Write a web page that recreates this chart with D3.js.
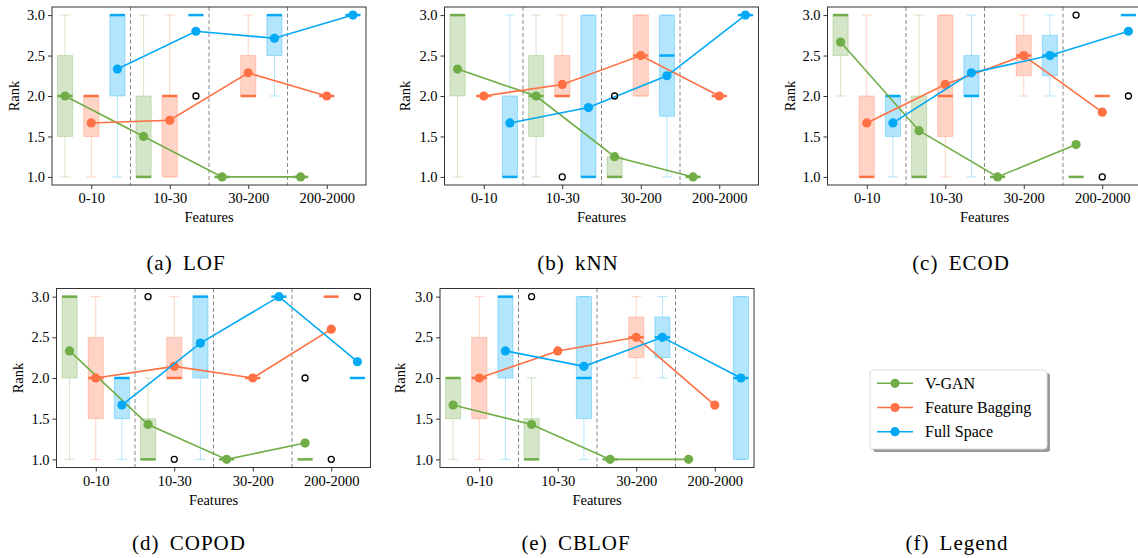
<!DOCTYPE html>
<html>
<head>
<meta charset="utf-8">
<script src="https://cdn.jsdelivr.net/npm/d3@7"></script>
<style>
body { margin: 0; background: #fff; }
</style>
</head>
<body>
<div class="container"></div>
<script>
const WIDTH = 1138;
const HEIGHT = 558;
const PLOTW = 314;
const FONT = "Liberation Serif";

const categories = ["0-10", "10-30", "30-200", "200-2000"];
const methods = ["V-GAN", "Feature Bagging", "Full Space"];
const colors = ["#70ad47", "#ff7043", "#03a9f4"];
const yTicks = [1.0, 1.5, 2.0, 2.5, 3.0];

// box stats per method (V-GAN, FB, Full Space), per feature group:
// [whiskerLow, q1, median, q3, whiskerHigh]
const lofBoxes = [
	[[1, 1.5, 2, 2.5, 3], [1, 1, 1, 2, 3], [1, 1, 1, 1, 1], [1, 1, 1, 1, 1]],
	[[1, 1.5, 2, 2, 2], [1, 1, 2, 2, 3], [2, 2, 2, 2.5, 3], [2, 2, 2, 2, 2]],
	[[1, 2, 3, 3, 3], [3, 3, 3, 3, 3], [2, 2.5, 3, 3, 3], [3, 3, 3, 3, 3]]
];
const lofMeans = [[2.0, 1.5, 1.0, 1.0], [1.667, 1.7, 2.286, 2.0], [2.333, 2.8, 2.714, 3.0]];
// [method, group, value]
const lofFliers = [[2, 1, 2.0]];

const knnBoxes = [
	[[1, 2, 3, 3, 3], [1, 1.5, 2, 2.5, 3], [1, 1, 1, 1.25, 1.25], [1, 1, 1, 1, 1]],
	[[2, 2, 2, 2, 2], [2, 2, 2, 2.5, 3], [2, 2, 2.5, 3, 3], [2, 2, 2, 2, 2]],
	[[1, 1, 1, 2, 3], [1, 1, 1, 3, 3], [1, 1.75, 2.5, 3, 3], [3, 3, 3, 3, 3]]
];
const knnMeans = [[2.333, 2.0, 1.25, 1.0], [2.0, 2.143, 2.5, 2.0], [1.667, 1.857, 2.25, 3.0]];
const knnFliers = [[1, 1, 1.0], [0, 2, 2.0]];

const ecodBoxes = [
	[[2, 2.5, 3, 3, 3], [1, 1, 1, 2, 3], [1, 1, 1, 1, 1], [1, 1, 1, 1, 1]],
	[[1, 1, 1, 2, 3], [1, 1.5, 2, 3, 3], [2, 2.25, 2.5, 2.75, 3], [2, 2, 2, 2, 2]],
	[[1, 1.5, 2, 2, 2], [1, 2, 2, 2.5, 3], [2, 2.25, 2.5, 2.75, 3], [3, 3, 3, 3, 3]]
];
const ecodMeans = [[2.667, 1.571, 1.0, 1.4], [1.667, 2.143, 2.5, 1.8], [1.667, 2.286, 2.5, 2.8]];
const ecodFliers = [[0, 3, 3.0], [1, 3, 1.0], [2, 3, 2.0]];

const copodBoxes = [
	[[1, 2, 3, 3, 3], [1, 1, 1, 1.5, 2], [1, 1, 1, 1, 1], [1, 1, 1, 1, 1]],
	[[1, 1.5, 2, 2.5, 3], [2, 2, 2, 2.5, 3], [2, 2, 2, 2, 2], [3, 3, 3, 3, 3]],
	[[1, 1.5, 2, 2, 2], [1, 2, 3, 3, 3], [3, 3, 3, 3, 3], [2, 2, 2, 2, 2]]
];
const copodMeans = [[2.333, 1.429, 1.0, 1.2], [2.0, 2.143, 2.0, 2.6], [1.667, 2.429, 3.0, 2.2]];
const copodFliers = [[0, 1, 3.0], [1, 1, 1.0], [0, 3, 2.0], [1, 3, 1.0], [2, 3, 3.0]];

const cblofBoxes = [
	[[1, 1.5, 2, 2, 2], [1, 1, 1, 1.5, 2], [1, 1, 1, 1, 1], null],
	[[1, 1.5, 2, 2.5, 3], null, [2, 2.25, 2.5, 2.75, 3], null],
	[[1, 2, 3, 3, 3], [1, 1.5, 2, 3, 3], [2, 2.25, 2.5, 2.75, 3], [1, 1, 2, 3, 3]]
];
const cblofMeans = [[1.667, 1.429, 1.0, 1.0], [2.0, 2.333, 2.5, 1.667], [2.333, 2.143, 2.5, 2.0]];
const cblofFliers = [[0, 1, 3.0]];

var translate = function(x, y) {
	return "translate(" + x + ", " + y + ")";
};

var drawBoxes = function(g, boxes, x, y) {
	var bw = x(0.29) - x(0);
	var cw = x(0.19) - x(0);
	boxes.forEach(function(list, m) {
		list.forEach(function(s, gi) {
			if (!s) return;
			var cx = x(gi * 3 + m);
			var c = colors[m];
			var b = g.append("g");
			// whiskers and caps
			[[s[0], s[1]], [s[3], s[4]]].forEach(function(w) {
				b.append("line")
					.attr("x1", cx).attr("x2", cx)
					.attr("y1", y(w[0])).attr("y2", y(w[1]))
					.attr("stroke", c).attr("stroke-opacity", 0.3);
			});
			[s[0], s[4]].forEach(function(v) {
				b.append("line")
					.attr("x1", cx - cw).attr("x2", cx + cw)
					.attr("y1", y(v)).attr("y2", y(v))
					.attr("stroke", c).attr("stroke-opacity", 0.3);
			});
			b.append("rect")
				.attr("x", cx - bw).attr("width", 2 * bw)
				.attr("y", y(s[3])).attr("height", y(s[1]) - y(s[3]))
				.attr("fill", c).attr("fill-opacity", 0.3)
				.attr("stroke", c).attr("stroke-opacity", 0.3);
			b.append("line")
				.attr("x1", cx - bw).attr("x2", cx + bw)
				.attr("y1", y(s[2])).attr("y2", y(s[2]))
				.attr("stroke", c).attr("stroke-width", 2.5);
		});
	});
};

var drawMeans = function(g, means, x, y) {
	means.forEach(function(vals, m) {
		var line = d3.line()
			.x(function(d, gi) { return x(gi * 3 + m); })
			.y(function(d) { return y(d); });
		g.append("path")
			.attr("d", line(vals))
			.attr("fill", "none")
			.attr("stroke", colors[m])
			.attr("stroke-width", 1.6);
		g.selectAll(null).data(vals)
			.enter()
			.append("circle")
			.attr("cx", function(d, gi) { return x(gi * 3 + m); })
			.attr("cy", function(d) { return y(d); })
			.attr("r", 4.6)
			.attr("fill", colors[m]);
	});
};

var addText = function(sel, size) {
	return sel.append("text")
		.attr("font-family", FONT)
		.attr("font-size", size)
		.attr("fill", "#000");
};

var drawPanel = function(svg, p) {
	var x = d3.scaleLinear().domain([-0.5, 11.5]).range([0, PLOTW]);
	var y = d3.scaleLinear().domain([0.9, 3.1]).range([p.h, 0]);
	var g = svg.append("g").attr("transform", translate(p.left, p.top));

	drawBoxes(g, p.boxes, x, y);

	// group separators
	g.selectAll(".sep").data([2.5, 5.5, 8.5])
		.enter()
		.append("line")
		.attr("x1", function(d) { return x(d); })
		.attr("x2", function(d) { return x(d); })
		.attr("y1", 0).attr("y2", p.h)
		.attr("stroke", "#888")
		.attr("stroke-dasharray", "4,2.5");

	drawMeans(g, p.means, x, y);

	g.selectAll(".flier").data(p.fliers)
		.enter()
		.append("circle")
		.attr("cx", function(d) { return x(d[1] * 3 + d[0]); })
		.attr("cy", function(d) { return y(d[2]); })
		.attr("r", 3)
		.attr("fill", "none")
		.attr("stroke", "#000")
		.attr("stroke-width", 1.3);

	var xAxis = d3.axisBottom(x)
		.tickValues([1, 4, 7, 10])
		.tickFormat(function(d, i) { return categories[i]; })
		.tickSizeInner(4).tickSizeOuter(0).tickPadding(4);
	var yAxis = d3.axisLeft(y)
		.tickValues(yTicks)
		.tickFormat(d3.format(".1f"))
		.tickSizeInner(4).tickSizeOuter(0).tickPadding(3);

	var xg = g.append("g").attr("transform", translate(0, p.h)).call(xAxis);
	var yg = g.append("g").call(yAxis);
	[xg, yg].forEach(function(a) {
		a.attr("font-family", FONT).attr("font-size", 14.5);
		a.select(".domain").remove();
		a.selectAll("line").attr("stroke", "#333");
		a.selectAll("text").attr("font-family", FONT).attr("fill", "#000");
	});

	g.append("rect")
		.attr("width", PLOTW).attr("height", p.h)
		.attr("fill", "none")
		.attr("stroke", "#333");

	addText(g, 14.5)
		.attr("x", PLOTW / 2).attr("y", p.h + 37)
		.attr("text-anchor", "middle")
		.text("Features");

	addText(svg, 14.5)
		.attr("transform", translate(p.rankX, p.top + p.h / 2) + " rotate(-90)")
		.attr("dy", "0.35em")
		.attr("text-anchor", "middle")
		.text("Rank");

	addText(svg, 21)
		.attr("x", p.capX).attr("y", p.capY)
		.attr("text-anchor", "middle")
		.attr("letter-spacing", 1)
		.attr("word-spacing", 4)
		.text(p.caption);
};

var drawLegend = function(svg) {
	var lg = svg.append("g").attr("transform", translate(870, 370));
	lg.append("rect")
		.attr("x", 3).attr("y", 3)
		.attr("width", 177).attr("height", 79)
		.attr("rx", 3)
		.attr("fill", "#999");
	lg.append("rect")
		.attr("width", 177).attr("height", 79)
		.attr("rx", 3)
		.attr("fill", "#fff")
		.attr("stroke", "#ddd");
	methods.forEach(function(name, i) {
		var cy = 13.3 + i * 24.2;
		lg.append("line")
			.attr("x1", 7).attr("x2", 43)
			.attr("y1", cy).attr("y2", cy)
			.attr("stroke", colors[i]).attr("stroke-width", 1.6);
		lg.append("circle")
			.attr("cx", 25).attr("cy", cy).attr("r", 4.6)
			.attr("fill", colors[i]);
		addText(lg, 16)
			.attr("x", 55).attr("y", cy)
			.attr("dy", "0.35em")
			.text(name);
	});
	addText(svg, 21)
		.attr("x", 957).attr("y", 550)
		.attr("text-anchor", "middle")
		.attr("letter-spacing", 1)
		.attr("word-spacing", 4)
		.text("(f) Legend");
};

var load = function() {
	var svg = d3.select(".container").append("svg")
		.attr("width", WIDTH)
		.attr("height", HEIGHT)
		.attr("font-family", FONT)
		.style("display", "block");

	var panels = [
		{caption: "(a) LOF", boxes: lofBoxes, means: lofMeans, fliers: lofFliers,
			left: 52, top: 7, h: 178, rankX: 13.5, capX: 186, capY: 270},
		{caption: "(b) kNN", boxes: knnBoxes, means: knnMeans, fliers: knnFliers,
			left: 444.5, top: 7, h: 178, rankX: 405, capX: 578, capY: 270},
		{caption: "(c) ECOD", boxes: ecodBoxes, means: ecodMeans, fliers: ecodFliers,
			left: 827.5, top: 7, h: 178, rankX: 789.5, capX: 961, capY: 270},
		{caption: "(d) COPOD", boxes: copodBoxes, means: copodMeans, fliers: copodFliers,
			left: 56.5, top: 288.5, h: 179, rankX: 18.3, capX: 189, capY: 550},
		{caption: "(e) CBLOF", boxes: cblofBoxes, means: cblofMeans, fliers: cblofFliers,
			left: 440, top: 288.5, h: 179, rankX: 400, capX: 576, capY: 550}
	];
	panels.forEach(function(p) { drawPanel(svg, p); });
	drawLegend(svg);
};

window.onload = load;
</script>
</body>
</html>
